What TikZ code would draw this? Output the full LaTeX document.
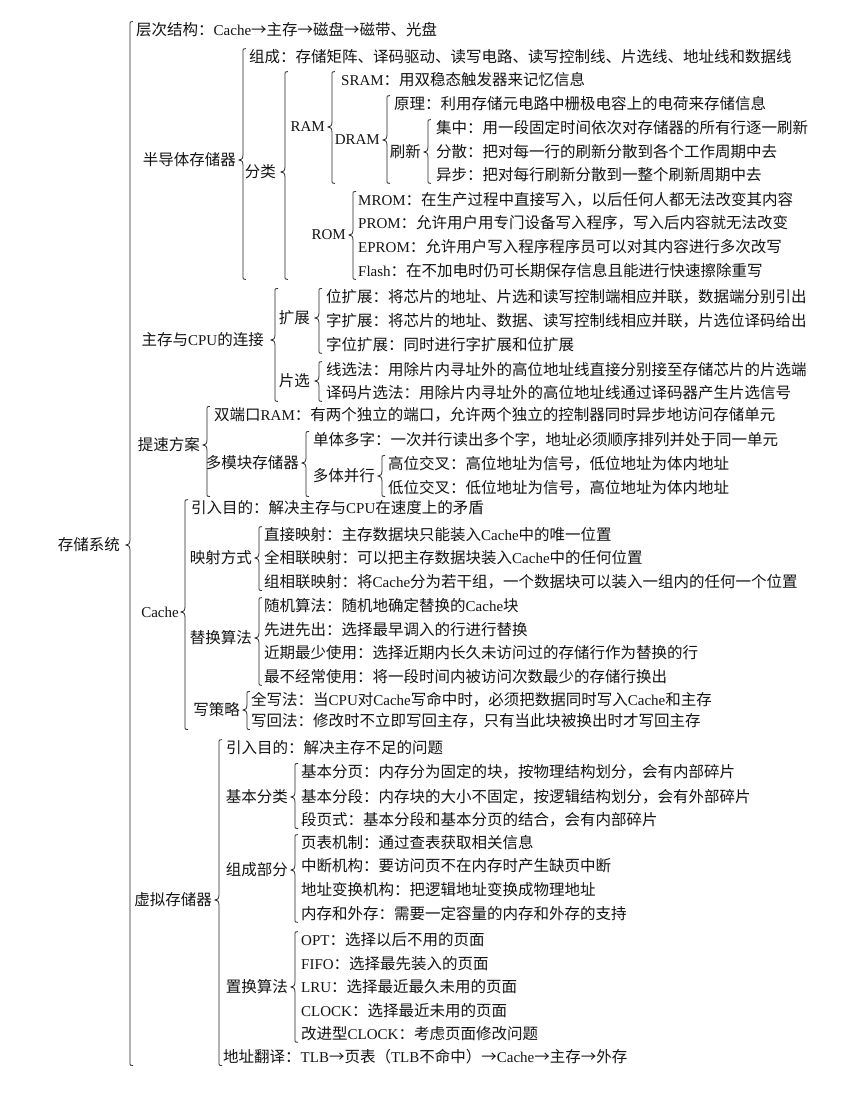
\documentclass[tikz,border=0pt]{standalone}
\usepackage{fontspec}
\setmainfont{Liberation Serif}
\newfontfamily\cjk{Noto Sans CJK SC}
\usetikzlibrary{calc}
\newcommand\en[1]{{\rmfamily\fontsize{15}{17}\selectfont #1}}
\tikzset{
  leaf/.style={anchor=west, inner sep=1pt, text=black!92, font=\cjk\fontsize{15.5}{17}\selectfont},
  par/.style={anchor=east, inner sep=1pt, text=black!92, font=\cjk\fontsize{15.5}{17}\selectfont},
  brace/.style={draw=black!85, line width=0.8pt}
}
\newcommand\brc[4][6]{%
  \draw[brace] let \p1=(#2.east), \p2=(#3.north), \p3=(#4.south), \p4=($(#2.east)+(#1,0)$) in
   (\x4+3pt,\y2) .. controls (\x4,\y2) .. (\x4,\y2-4pt) -- (\x4,\y1+5pt)
   .. controls (\x4,\y1+1pt) and (\x4-2pt,\y1) .. (\x4-4pt,\y1)
   .. controls (\x4-2pt,\y1) and (\x4,\y1-1pt) .. (\x4,\y1-5pt)
   -- (\x4,\y3+4pt) .. controls (\x4,\y3) .. (\x4+3pt,\y3);}
\begin{document}
\begin{tikzpicture}[x=1pt,y=-1pt]
\useasboundingbox[fill=white] (0,0) rectangle (851,1101);
% root
\node[par] (root) at (121,545) {存储系统};
\node[leaf] (cc) at (135,30) {层次结构：\en{Cache}→主存→磁盘→磁带、光盘};
% semiconductor
\node[par] (semi) at (237,160) {半导体存储器};
\node[leaf] (zc) at (248,57) {组成：存储矩阵、译码驱动、读写电路、读写控制线、片选线、地址线和数据线};
\node[par] (fl) at (277,172) {分类};
\node[par] (ram) at (326,127) {\en{RAM}};
\node[leaf] (sram) at (340,80) {\en{SRAM}：用双稳态触发器来记忆信息};
\node[par] (dram) at (381,140) {\en{DRAM}};
\node[leaf] (yl) at (393,104) {原理：利用存储元电路中栅极电容上的电荷来存储信息};
\node[par] (sx) at (422,152) {刷新};
\node[leaf] (jz) at (435,128) {集中：用一段固定时间依次对存储器的所有行逐一刷新};
\node[leaf] (fs) at (435,152) {分散：把对每一行的刷新分散到各个工作周期中去};
\node[leaf] (yb) at (435,175) {异步：把对每行刷新分散到一整个刷新周期中去};
\node[par] (rom) at (347,235) {\en{ROM}};
\node[leaf] (mrom) at (357,200) {\en{MROM}：在生产过程中直接写入，以后任何人都无法改变其内容};
\node[leaf] (prom) at (357,223) {\en{PROM}：允许用户用专门设备写入程序，写入后内容就无法改变};
\node[leaf] (eprom) at (357,247) {\en{EPROM}：允许用户写入程序程序员可以对其内容进行多次改写};
\node[leaf] (flash) at (357,271) {\en{Flash}：在不加电时仍可长期保存信息且能进行快速擦除重写};
% connection
\node[par] (conn) at (265,340) {主存与\en{CPU}的连接};
\node[par] (kz) at (311,318) {扩展};
\node[leaf] (wkz) at (325,297) {位扩展：将芯片的地址、片选和读写控制端相应并联，数据端分别引出};
\node[leaf] (zkz) at (325,321) {字扩展：将芯片的地址、数据、读写控制线相应并联，片选位译码给出};
\node[leaf] (zwkz) at (325,345) {字位扩展：同时进行字扩展和位扩展};
\node[par] (px) at (311,381) {片选};
\node[leaf] (xxf) at (325,370) {线选法：用除片内寻址外的高位地址线直接分别接至存储芯片的片选端};
\node[leaf] (ymp) at (325,393) {译码片选法：用除片内寻址外的高位地址线通过译码器产生片选信号};
% speedup
\node[par] (ts) at (201,445) {提速方案};
\node[leaf] (sdk) at (213,415) {双端口\en{RAM}：有两个独立的端口，允许两个独立的控制器同时异步地访问存储单元};
\node[par] (dmk) at (300,463) {多模块存储器};
\node[leaf] (dtdz) at (312,440) {单体多字：一次并行读出多个字，地址必须顺序排列并处于同一单元};
\node[par] (dtbx) at (376,476) {多体并行};
\node[leaf] (gwjc) at (387,464) {高位交叉：高位地址为信号，低位地址为体内地址};
\node[leaf] (dwjc) at (387,488) {低位交叉：低位地址为信号，高位地址为体内地址};
% cache
\node[par] (cache) at (180,612) {\en{Cache}};
\node[leaf] (crm) at (190,508) {引入目的：解决主存与\en{CPU}在速度上的矛盾};
\node[par] (ysfs) at (253,558) {映射方式};
\node[leaf] (zjys) at (263,535) {直接映射：主存数据块只能装入\en{Cache}中的唯一位置};
\node[leaf] (qxl) at (263,558) {全相联映射：可以把主存数据块装入\en{Cache}中的任何位置};
\node[leaf] (zxl) at (263,582) {组相联映射：将\en{Cache}分为若干组，一个数据块可以装入一组内的任何一个位置};
\node[par] (thsf) at (253,638) {替换算法};
\node[leaf] (sj) at (263,606) {随机算法：随机地确定替换的\en{Cache}块};
\node[leaf] (xjxc) at (263,630) {先进先出：选择最早调入的行进行替换};
\node[leaf] (jqzs) at (263,653) {近期最少使用：选择近期内长久未访问过的存储行作为替换的行};
\node[leaf] (zbjc) at (263,677) {最不经常使用：将一段时间内被访问次数最少的存储行换出};
\node[par] (xcl) at (241,710) {写策略};
\node[leaf] (qxf) at (250,700) {全写法：当\en{CPU}对\en{Cache}写命中时，必须把数据同时写入\en{Cache}和主存};
\node[leaf] (xhf) at (250,721) {写回法：修改时不立即写回主存，只有当此块被换出时才写回主存};
% virtual memory
\node[par] (xn) at (213,900) {虚拟存储器};
\node[leaf] (vrm) at (225,748) {引入目的：解决主存不足的问题};
\node[par] (jbfl) at (289,797) {基本分类};
\node[leaf] (fy) at (300,772) {基本分页：内存分为固定的块，按物理结构划分，会有内部碎片};
\node[leaf] (fd) at (300,797) {基本分段：内存块的大小不固定，按逻辑结构划分，会有外部碎片};
\node[leaf] (dys) at (300,820) {段页式：基本分段和基本分页的结合，会有内部碎片};
\node[par] (zcbf) at (289,870) {组成部分};
\node[leaf] (ybjz) at (300,843) {页表机制：通过查表获取相关信息};
\node[leaf] (zdjg) at (300,866) {中断机构：要访问页不在内存时产生缺页中断};
\node[leaf] (dzbh) at (300,890) {地址变换机构：把逻辑地址变换成物理地址};
\node[leaf] (ncwc) at (300,914) {内存和外存：需要一定容量的内存和外存的支持};
\node[par] (zhsf) at (289,987) {置换算法};
\node[leaf] (opt) at (300,940) {\en{OPT}：选择以后不用的页面};
\node[leaf] (fifo) at (300,964) {\en{FIFO}：选择最先装入的页面};
\node[leaf] (lru) at (300,987) {\en{LRU}：选择最近最久未用的页面};
\node[leaf] (clock) at (300,1011) {\en{CLOCK}：选择最近未用的页面};
\node[leaf] (gjclock) at (300,1034) {改进型\en{CLOCK}：考虑页面修改问题};
\node[leaf] (dzfy) at (222,1057) {地址翻译：\en{TLB}→页表（\en{TLB}不命中）→\en{Cache}→主存→外存};
% braces
\brc[9]{root}{cc}{dzfy}
\brc{semi}{zc}{flash}
\brc[8]{fl}{sram}{flash}
\brc{ram}{sram}{yb}
\brc{dram}{yl}{yb}
\brc{sx}{jz}{yb}
\brc{rom}{mrom}{flash}
\brc[10]{conn}{wkz}{ymp}
\brc[8]{kz}{wkz}{zwkz}
\brc[8]{px}{xxf}{ymp}
\brc{ts}{sdk}{dwjc}
\brc{dmk}{dtdz}{dwjc}
\brc{dtbx}{gwjc}{dwjc}
\brc[5]{cache}{crm}{xhf}
\brc{ysfs}{zjys}{zxl}
\brc{thsf}{sj}{zbjc}
\brc{xcl}{qxf}{xhf}
\brc{xn}{vrm}{dzfy}
\brc{jbfl}{fy}{dys}
\brc{zcbf}{ybjz}{ncwc}
\brc{zhsf}{opt}{gjclock}
\end{tikzpicture}
\end{document}
